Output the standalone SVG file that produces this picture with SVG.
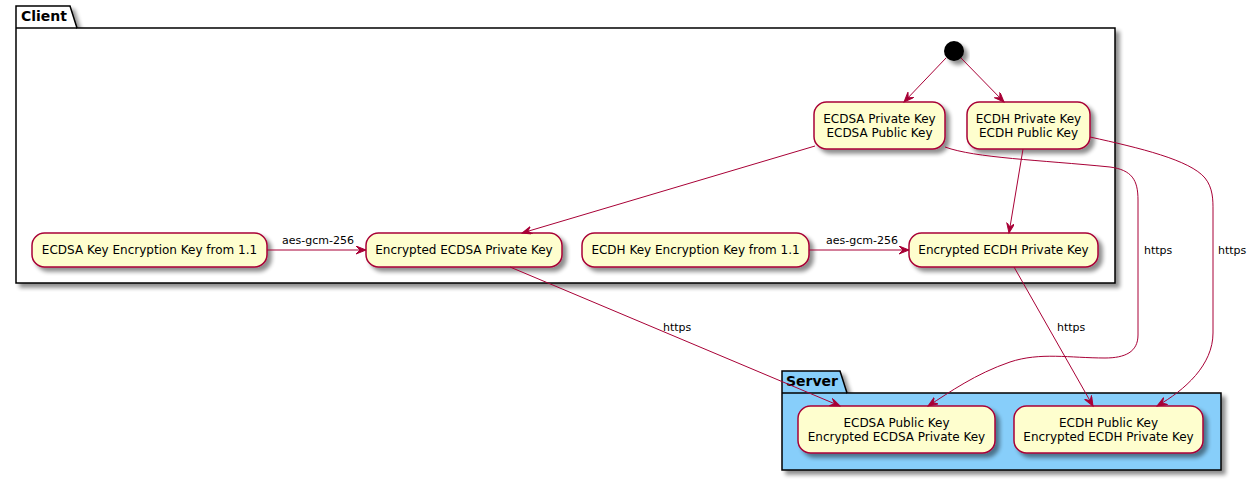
<svg xmlns="http://www.w3.org/2000/svg" width="1257" height="481" viewBox="0 0 1257 481">
<defs>
<filter id="sh" x="-20%" y="-20%" width="150%" height="160%">
<feGaussianBlur in="SourceAlpha" stdDeviation="2"/>
<feOffset dx="4" dy="4" result="b"/>
<feComponentTransfer><feFuncA type="linear" slope="0.45"/></feComponentTransfer>
<feMerge><feMergeNode/><feMergeNode in="SourceGraphic"/></feMerge>
</filter>
<marker id="ar" markerUnits="userSpaceOnUse" markerWidth="12" markerHeight="10" refX="10" refY="4" orient="auto">
<path d="M0,0 L10,4 L0,8 L4,4 Z" fill="#A80036" stroke="#A80036" stroke-width="1"/>
</marker>
</defs>
<style>
.pkg{stroke:#000;stroke-width:1.5}
.pt{font-family:"DejaVu Sans",sans-serif;font-size:14px;font-weight:bold;fill:#000}
.n rect{fill:#FEFECE;stroke:#A80036;stroke-width:1.5}
.n text{font-family:"DejaVu Sans",sans-serif;font-size:12px;fill:#000;text-anchor:middle}
.e{fill:none;stroke:#A80036;stroke-width:1;marker-end:url(#ar)}
.lb{font-family:"DejaVu Sans",sans-serif;font-size:11px;fill:#000}
</style>
<rect width="1257" height="481" fill="#fff"/>
<g id="client">
<g filter="url(#sh)">
<path class="pkg" fill="#fff" d="M16,6 L70,6 L77,28 L1115,28 L1115,283 L16,283 Z"/>
</g>
<line x1="16" y1="28" x2="77" y2="28" stroke="#000" stroke-width="1.5"/>
<text class="pt" x="21" y="21">Client</text>
</g>
<g id="server">
<g filter="url(#sh)">
<path class="pkg" fill="#87CEFA" d="M782,371 L840,371 L847,393 L1221,393 L1221,470 L782,470 Z"/>
</g>
<line x1="782" y1="393" x2="847" y2="393" stroke="#000" stroke-width="1.5"/>
<text class="pt" x="786" y="386">Server</text>
</g>
<g id="start">
<circle cx="954" cy="51" r="10" fill="#000" filter="url(#sh)"/>
</g>
<g id="ecdsa-pair" class="n">
<rect x="814" y="102" width="131" height="47" rx="12.5" filter="url(#sh)"/>
<text x="879.5" y="123">ECDSA Private Key</text>
<text x="879.5" y="137">ECDSA Public Key</text>
</g>
<g id="ecdh-pair" class="n">
<rect x="967" y="102" width="123" height="47" rx="12.5" filter="url(#sh)"/>
<text x="1028.5" y="123">ECDH Private Key</text>
<text x="1028.5" y="137">ECDH Public Key</text>
</g>
<g id="ecdsa-kek" class="n">
<rect x="32" y="233" width="235" height="34" rx="12.5" filter="url(#sh)"/>
<text x="149.5" y="254">ECDSA Key Encryption Key from 1.1</text>
</g>
<g id="enc-ecdsa" class="n">
<rect x="366" y="233" width="196" height="34" rx="12.5" filter="url(#sh)"/>
<text x="464" y="254">Encrypted ECDSA Private Key</text>
</g>
<g id="ecdh-kek" class="n">
<rect x="582" y="233" width="227" height="34" rx="12.5" filter="url(#sh)"/>
<text x="695.5" y="254">ECDH Key Encryption Key from 1.1</text>
</g>
<g id="enc-ecdh" class="n">
<rect x="909" y="233" width="189" height="34" rx="12.5" filter="url(#sh)"/>
<text x="1003.5" y="254">Encrypted ECDH Private Key</text>
</g>
<g id="srv-ecdsa" class="n">
<rect x="798" y="406" width="197" height="47" rx="12.5" filter="url(#sh)"/>
<text x="896.5" y="426.5">ECDSA Public Key</text>
<text x="896.5" y="440.5">Encrypted ECDSA Private Key</text>
</g>
<g id="srv-ecdh" class="n">
<rect x="1014" y="406" width="189" height="47" rx="12.5" filter="url(#sh)"/>
<text x="1108.5" y="426.5">ECDH Public Key</text>
<text x="1108.5" y="440.5">Encrypted ECDH Private Key</text>
</g>
<g id="connectors">
<path class="e" d="M946,58 L904,102"/>
<path class="e" d="M961,58 L1004,102"/>
<path class="e" d="M815,146 L522,233"/>
<path class="e" d="M1023,149 L1009,233"/>
<path class="e" d="M267,250 L366,250"/>
<path class="e" d="M809,250 L909,250"/>
<path class="e" d="M510,267 L840,406"/>
<path class="e" d="M1014,267 L1093,406"/>
<path class="e" d="M945,147 C975,158 1040,160 1110,167 C1132,170 1138,180 1138,200 L1138,335 C1138,352 1125,358 1105,358 C1070,358 1040,352 1010,362 C975,374 950,392 928,406"/>
<path class="e" d="M1090,137 C1140,148 1190,160 1205,178 C1213,188 1213,200 1213,210 L1213,333 C1213,365 1185,390 1157,406"/>
<text class="lb" x="282" y="244">aes-gcm-256</text>
<text class="lb" x="826" y="244">aes-gcm-256</text>
<text class="lb" x="663" y="331">https</text>
<text class="lb" x="1057" y="331">https</text>
<text class="lb" x="1144" y="254">https</text>
<text class="lb" x="1218" y="254">https</text>
</g>
</svg>
